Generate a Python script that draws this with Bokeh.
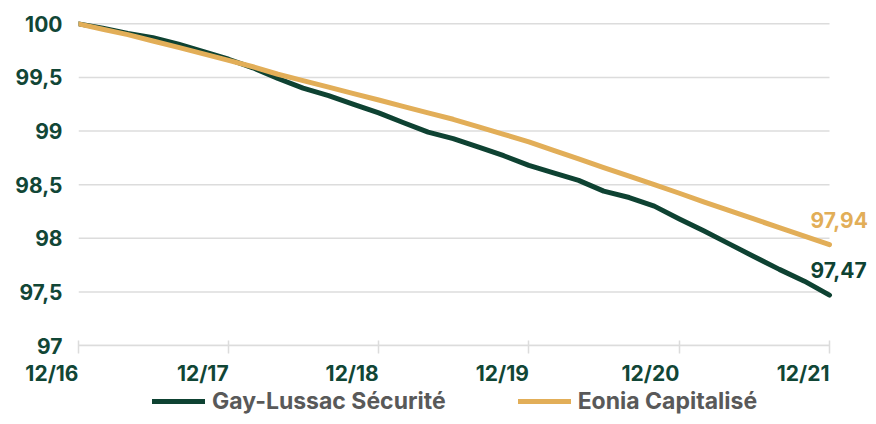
import pandas as pd
from bokeh.plotting import figure
from bokeh.layouts import column
from bokeh.core.properties import value
from bokeh.models import (ColumnDataSource, FixedTicker, CustomJSTickFormatter,
                          Legend, LegendItem, Label, Range1d)
from bokeh.embed import file_html
from bokeh.resources import INLINE

# ---- data (every two months, Dec 2016 - Dec 2021) ----
dates = ["2016-12-31", "2017-02-28", "2017-04-30", "2017-06-30", "2017-08-31", "2017-10-31",
         "2017-12-31", "2018-02-28", "2018-04-30", "2018-06-30", "2018-08-31", "2018-10-31",
         "2018-12-31", "2019-02-28", "2019-04-30", "2019-06-30", "2019-08-31", "2019-10-31",
         "2019-12-31", "2020-02-29", "2020-04-30", "2020-06-30", "2020-08-31", "2020-10-31",
         "2020-12-31", "2021-02-28", "2021-04-30", "2021-06-30", "2021-08-31", "2021-10-31",
         "2021-12-31"]
gay_lussac = [100.00, 99.96, 99.91, 99.87, 99.81, 99.74,
              99.67, 99.59, 99.49, 99.40, 99.33, 99.25,
              99.17, 99.08, 98.99, 98.93, 98.85, 98.77,
              98.68, 98.61, 98.54, 98.44, 98.38, 98.30,
              98.18, 98.07, 97.95, 97.83, 97.71, 97.60,
              97.47]
eonia = [100.00, 99.95, 99.90, 99.84, 99.78, 99.72,
         99.66, 99.60, 99.53, 99.47, 99.41, 99.35,
         99.29, 99.23, 99.17, 99.11, 99.04, 98.97,
         98.90, 98.82, 98.74, 98.66, 98.58, 98.50,
         98.42, 98.34, 98.26, 98.18, 98.10, 98.02,
         97.94]
series_names = ["Gay-Lussac Sécurité", "Eonia Capitalisé"]
x_tick_dates = ["2016-12-31", "2017-12-31", "2018-12-31", "2019-12-31",
                "2020-12-31", "2021-12-31"]
x_tick_labels = ["12/16", "12/17", "12/18", "12/19", "12/20", "12/21"]
y_ticks = [97, 97.5, 98, 98.5, 99, 99.5, 100]
y_tick_labels = ["97", "97,5", "98", "98,5", "99", "99,5", "100"]

# ---- styling ----
GREEN = "#0e4232"
GOLD = "#e2ae58"
LABEL = "#114636"
GRID = "#dcdcdc"
FONT = "Inter"

W = 868
LEFT = 78          # left border of the chart frame
PLOT_W = 751       # pixels between first and last date
RIGHT_EXTRA = 39   # room right of the last date for end labels


def ms(d):
    return pd.Timestamp(d).value / 1e6


x0, x1 = ms(dates[0]), ms(dates[-1])
span = x1 - x0
x_end = x1 + span * RIGHT_EXTRA / PLOT_W

xs = [pd.Timestamp(d) for d in dates]
src = ColumnDataSource(dict(x=xs, g=gay_lussac, e=eonia))

p = figure(width=W, height=358, x_axis_type="datetime",
           output_backend="svg", toolbar_location=None,
           x_range=Range1d(x0, x_end),
           y_range=Range1d(97, 100.05),
           min_border_left=LEFT, min_border_right=0,
           min_border_top=18, min_border_bottom=13)
p.outline_line_color = None
p.background_fill_color = "white"
p.border_fill_color = "white"

# horizontal grid lines, limited to the data span
p.segment(x0=[x0] * len(y_ticks), x1=[x1] * len(y_ticks), y0=y_ticks, y1=y_ticks,
          line_color=GRID, line_width=1.5, level="underlay")

r_g = p.line("x", "g", source=src, line_color=GREEN, line_width=5,
             line_cap="round", line_join="round")
r_e = p.line("x", "e", source=src, line_color=GOLD, line_width=5,
             line_cap="round", line_join="round")

# y axis
ya = p.yaxis[0]
ya.ticker = FixedTicker(ticks=y_ticks)
ya.major_label_overrides = {t: l for t, l in zip(y_ticks, y_tick_labels)}
ya.axis_line_color = None
ya.major_tick_line_color = None
ya.minor_tick_line_color = None
ya.major_label_standoff = 10
ya.major_label_text_font = FONT
ya.major_label_text_font_style = "bold"
ya.major_label_text_font_size = "21px"
ya.major_label_text_color = LABEL

# x axis: line and tick marks (labels are set right-aligned in the strip below)
xa = p.xaxis[0]
xa.bounds = (x0, x1)
xa.ticker = FixedTicker(ticks=[ms(d) for d in x_tick_dates])
xa.formatter = CustomJSTickFormatter(code="return ''")
xa.axis_line_color = GRID
xa.axis_line_width = 1.5
xa.major_tick_line_color = GRID
xa.major_tick_line_width = 1.5
xa.major_tick_in = 5
xa.major_tick_out = 8
xa.minor_tick_line_color = None
xa.major_label_standoff = 0
xa.major_label_text_font_size = "0px"

p.xgrid.grid_line_color = None
p.ygrid.grid_line_color = None

# end value labels
for vals, col in ((gay_lussac, GREEN), (eonia, GOLD)):
    p.add_layout(Label(x=x1, y=vals[-1],
                       text=f"{vals[-1]:.2f}".replace(".", ","),
                       x_offset=-19, y_offset=25,
                       text_baseline="middle", text_align="left",
                       text_font=FONT, text_font_style="bold",
                       text_font_size="21px", text_color=col))

# ---- strip below: x tick labels (same x scale as the chart) and legend ----
q = figure(width=W, height=58, output_backend="svg", toolbar_location=None,
           x_range=Range1d(x0 - span * LEFT / PLOT_W, x_end),
           y_range=Range1d(-43.5, 14.5),
           x_axis_location=None, y_axis_location=None,
           min_border_left=0, min_border_right=0,
           min_border_top=0, min_border_bottom=0)
q.outline_line_color = None
q.xgrid.grid_line_color = None
q.ygrid.grid_line_color = None

q.text(x=[ms(d) for d in x_tick_dates], y=[0] * len(x_tick_dates), text=x_tick_labels,
       text_align="right", text_baseline="middle",
       text_font=value(FONT), text_font_style="bold",
       text_font_size="21px", text_color=LABEL)

lg_g = q.line("x", "g", source=src, line_color=GREEN, line_width=5, line_cap="round")
lg_e = q.line("x", "e", source=src, line_color=GOLD, line_width=5, line_cap="round")

legend = Legend(items=[LegendItem(label=series_names[0], renderers=[lg_g]),
                       LegendItem(label=series_names[1], renderers=[lg_e])],
                orientation="horizontal", location=(152, 1),
                border_line_color=None, background_fill_alpha=0,
                padding=0, margin=0, spacing=72,
                glyph_width=53, glyph_height=20, label_height=20,
                label_standoff=7,
                label_text_font=FONT, label_text_font_style="bold",
                label_text_font_size="23px", label_text_color="#595959")
q.add_layout(legend)

# keep each figure's own frame (do not align frames across the column)
for f in (p, q):
    if "frame_align" in f.properties():
        f.frame_align = False

layout = column(p, q, spacing=0)
open("out.html", "w").write(file_html(layout, INLINE))
